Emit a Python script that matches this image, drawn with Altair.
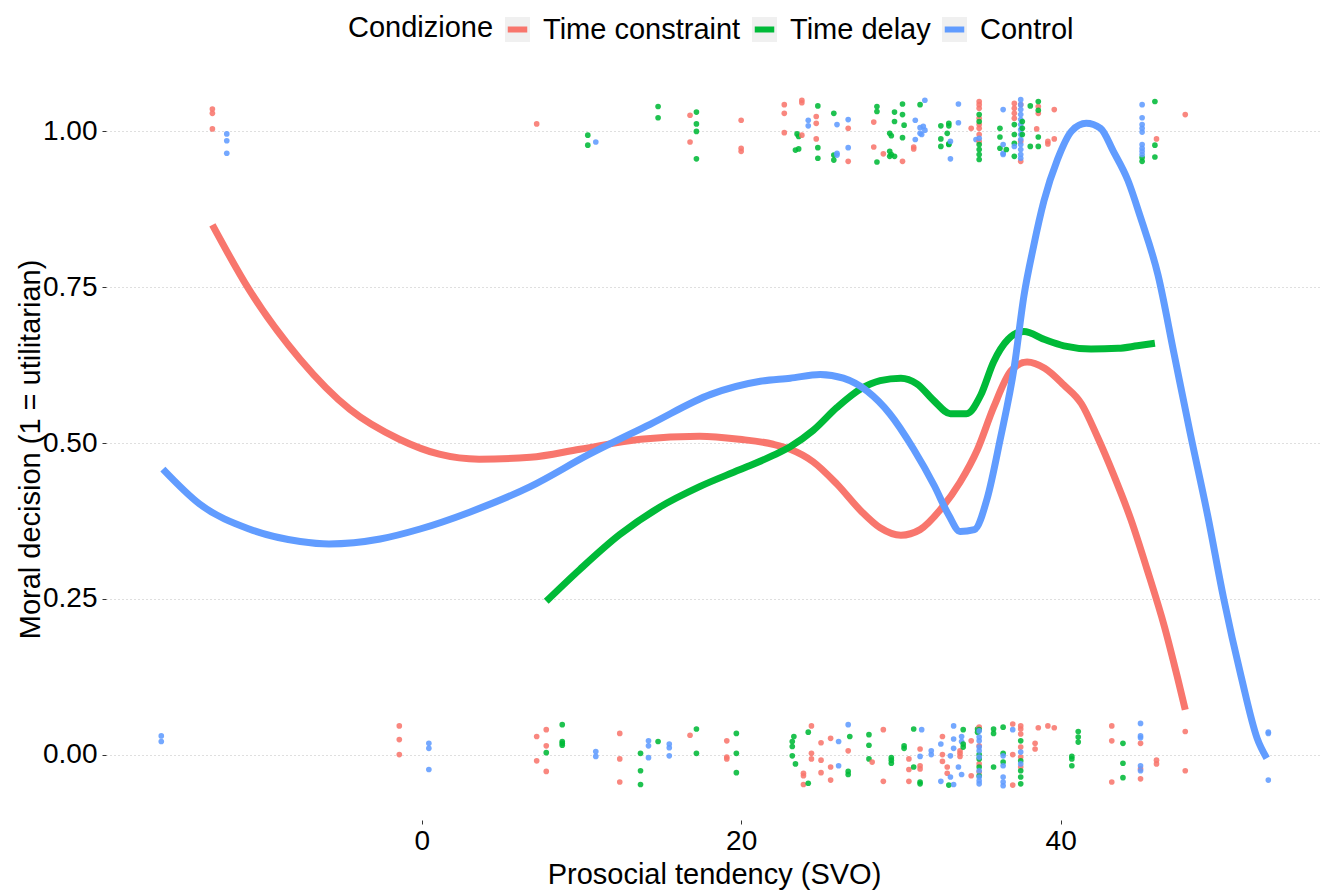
import altair as alt
import pandas as pd

CONDS = ["Time constraint", "Time delay", "Control"]
COLORS = ["#F8766D", "#00BA38", "#619CFF"]

# ---------------- jittered observations (SVO, decision) ----------------
tc_x = [-13.1, -13.1, -13.1, 7.2, 16.8, 16.8, 20.0, 20.0, 20.0,
        22.7, 22.7, 22.7, 23.8, 23.8, 23.8, 24.7, 24.7, 24.7, 26.7, 26.7,
        28.3, 28.3, 28.9, 30.1, 30.8, 30.8, 34.4,
        34.9, 34.9, 34.9, 34.9, 34.9, 34.9, 34.9, 34.9,
        37.1, 37.1, 37.1, 37.1, 37.5, 37.5, 37.5, 38.6, 38.6, 38.5, 39.2, 39.2,
        39.6, 39.6, 46.0, 47.8,
        -1.4, -1.4, -1.4, 7.2, 7.2, 7.8, 7.8, 7.8, 12.4, 12.4, 12.4, 16.8,
        19.1, 19.1, 19.1,
        24.4, 24.4, 24.4, 23.9, 23.9, 23.9, 25.0, 25.0, 25.0, 25.6, 25.6, 25.6,
        26.7, 28.9, 28.2, 28.9, 30.5, 30.5, 30.5, 31.2, 31.2, 31.2,
        32.6, 32.6, 32.6, 32.9, 32.9, 33.7, 33.7, 33.7, 34.4, 34.4,
        34.9, 34.9, 34.9, 34.9, 37.0, 37.0, 37.0,
        37.5, 37.5, 37.5, 37.5, 37.5, 37.5, 38.4, 38.4, 38.6, 39.2, 39.6,
        43.2, 43.2, 43.2, 45.0, 45.0, 45.0, 46.0, 46.0, 47.8, 47.8]
tc_y = [1.036, 1.029, 1.004, 1.012, 1.026, 0.983, 1.018, 0.973, 0.968,
        1.043, 1.029, 0.998, 1.050, 1.046, 0.994, 1.024, 1.013, 0.988, 1.005, 0.952,
        1.015, 0.975, 0.964, 0.952, 0.975, 0.972, 1.005,
        1.048, 1.043, 1.037, 1.021, 1.011, 1.005, 0.995, 0.984,
        1.045, 1.037, 1.029, 1.021, 0.984, 0.952, 1.043, 1.040, 1.029, 1.004, 0.984, 0.980,
        1.035, 0.988, 0.988, 1.027,
        0.046, 0.024, 0.000, 0.029, -0.010, 0.040, 0.014, -0.027, 0.034, -0.007, -0.044, 0.031,
        0.022, -0.004, -0.007,
        0.046, 0.002, -0.007, -0.030, -0.034, -0.048, 0.019, -0.009, -0.029, 0.026, -0.020, -0.041,
        0.006, 0.040, -0.012, -0.043, -0.007, -0.024, -0.043, 0.009, -0.018, -0.023,
        0.029, 0.000, -0.011, -0.020, -0.030, 0.006, 0.002, -0.003, 0.022, -0.034,
        0.044, 0.014, -0.015, -0.028, 0.049, 0.000, -0.049,
        0.046, 0.041, 0.033, 0.012, -0.004, -0.020, 0.018, 0.009, 0.043, 0.046, 0.043,
        0.046, 0.022, -0.044, 0.018, -0.023, -0.039, -0.009, -0.015, 0.037, -0.026]

td_x = [10.4, 10.4, 14.8, 14.8, 17.2, 17.2, 17.2, 17.2,
        24.8, 23.5, 23.6, 23.4, 23.6, 24.8, 24.8, 25.8, 25.8, 25.8,
        28.5, 28.5, 28.5, 29.3, 29.4, 30.1, 29.6, 30.1, 29.6, 30.2, 30.1,
        29.3, 29.3, 29.6, 29.4, 31.2, 32.5, 33.0, 33.0, 32.9, 32.5, 32.5, 33.0, 33.0,
        34.9, 34.9, 34.9, 34.9, 34.9, 34.9, 36.2, 36.2, 36.2, 36.6,
        37.1, 37.1, 37.1, 37.1, 37.6, 37.6, 37.6, 38.1, 38.6, 38.6, 38.6, 38.1, 38.6,
        45.1, 45.1, 45.9, 45.9, 45.9,
        7.8, 8.8, 8.8, 8.8, 8.8, 13.7, 13.7, 13.7, 14.8, 17.2, 17.2, 19.7, 19.7, 19.7,
        23.3, 23.2, 23.2, 23.2, 23.4, 24.2, 24.2, 26.8, 26.7, 26.7,
        28.0, 28.0, 28.0, 29.4, 29.4, 29.4, 30.2, 30.2, 30.8, 30.8, 31.2, 31.2,
        33.9, 33.9, 33.9, 34.8, 34.8, 34.9, 34.9, 34.9, 34.9, 34.9,
        35.8, 35.8, 35.8, 36.4, 36.4, 36.4, 37.5, 37.5, 37.5, 37.5, 37.5, 33.0,
        41.1, 41.1, 41.1, 40.7, 40.7, 40.7, 43.9, 43.9, 43.9]
td_y = [0.994, 0.978, 1.040, 1.022, 1.031, 1.012, 1.000, 0.956,
        1.041, 0.996, 0.992, 0.970, 0.972, 0.974, 0.957, 1.029, 0.962, 0.954,
        1.040, 1.032, 0.951, 0.997, 0.993, 1.044, 1.031, 1.027, 1.016, 1.010, 0.990,
        0.968, 0.960, 0.960, 0.963, 1.043, 1.009, 1.013, 1.009, 0.997, 0.988, 0.976, 0.979, 0.980,
        1.027, 1.016, 0.979, 0.971, 0.963, 0.955, 1.005, 0.991, 0.973, 0.971,
        1.011, 0.995, 0.981, 0.960, 1.016, 1.005, 0.995, 1.041, 1.048, 1.034, 0.991, 0.976, 0.976,
        0.952, 0.958, 1.048, 0.978, 0.959,
        0.003, 0.048, 0.021, 0.018, 0.015, 0.002, -0.026, -0.048, 0.021, 0.041, 0.002, 0.034, 0.002, -0.029,
        0.029, 0.021, 0.013, -0.002, -0.015, 0.036, -0.046, 0.029, -0.027, -0.032,
        0.032, 0.015, -0.007, -0.005, -0.009, -0.014, 0.014, 0.010, 0.041, -0.020, -0.044, -0.047,
        0.040, 0.017, 0.012, 0.041, 0.036, 0.040, 0.000, -0.007, -0.020, -0.034,
        0.041, 0.034, -0.020, 0.044, 0.002, -0.012, 0.022, -0.010, -0.026, -0.036, -0.047, -0.049,
        0.037, 0.028, 0.020, -0.003, -0.007, -0.018, 0.018, -0.014, -0.037]

ct_x = [-12.2, -12.2, -12.2, 10.9,
        24.2, 24.2, 26.0, 26.7, 26.7, 26.0, 26.0, 31.5, 30.9, 31.2, 31.4, 31.2, 31.5,
        30.9, 31.3, 33.6, 33.6, 33.1, 33.1, 34.7, 34.9, 36.4, 36.4, 36.4, 36.4,
        37.5, 37.5, 37.5, 37.5, 37.5, 37.5, 37.5, 37.5, 37.5, 37.5, 37.5, 37.5, 37.5,
        37.1, 45.1, 45.1, 45.1, 45.1, 45.1, 45.1, 45.1, 45.1, 45.1,
        -16.3, -16.3, 0.45, 0.45, 0.45, 10.9, 10.9, 14.2, 14.2, 14.2, 15.5, 15.5, 15.5,
        26.7, 26.1, 26.1, 31.3, 31.2, 31.9, 31.9, 32.5, 32.5, 33.3, 33.3, 33.3,
        33.8, 33.8, 33.8, 33.1, 33.1, 33.3, 33.6,
        34.9, 34.9, 34.9, 34.9, 34.9, 34.9, 34.9, 34.9, 34.9, 34.9,
        36.4, 36.4, 36.4, 36.4, 36.4, 37.0, 37.5, 37.5,
        45.0, 45.0, 45.0, 45.0, 45.0, 53.0, 53.0, 53.0]
ct_y = [0.996, 0.985, 0.965, 0.983,
        1.018, 1.009, 1.011, 1.019, 0.974, 0.965, 0.962, 1.050, 1.018, 1.006, 1.008, 0.997, 1.002,
        0.987, 0.995, 1.044, 1.014, 0.984, 0.956, 0.987, 0.989, 1.035, 0.979, 0.965, 0.963,
        1.051, 1.043, 1.035, 1.027, 1.019, 1.011, 1.003, 0.995, 0.987, 0.979, 0.971, 0.963, 0.957,
        0.976, 1.043, 1.022, 1.011, 1.005, 0.999, 0.979, 0.973, 0.968, 0.963,
        0.030, 0.021, 0.018, 0.010, -0.024, 0.005, -0.003, 0.022, 0.014, -0.005, 0.017, 0.011, -0.002,
        0.048, 0.021, -0.018, 0.040, -0.003, 0.006, 0.000, 0.017, -0.043, 0.046, 0.025, 0.010,
        0.029, 0.021, -0.032, -0.002, -0.036, -0.048, -0.020,
        0.038, 0.028, 0.022, 0.012, 0.006, -0.004, -0.026, -0.036, -0.042, -0.047,
        -0.002, -0.018, -0.036, -0.044, -0.050, 0.040, 0.004, -0.015,
        0.050, 0.030, 0.027, -0.018, -0.026, 0.036, 0.034, -0.041]

# ---------------- smoothed curves ----------------
tc_cx = [-13.1, -10.8, -7.6, -4.5, -1.4, 1.1, 3.6, 6.8, 9.9, 13.7, 17.4, 19.9, 22.0, 23.07,
         24.5, 26.0, 27.5, 28.7, 30.0, 31.2, 32.5, 33.7, 34.8, 35.8, 36.9, 37.9, 39.0,
         40.2, 41.3, 42.3, 43.3, 44.4, 45.4, 46.5, 47.3, 47.8]
tc_cy = [0.850, 0.746, 0.634, 0.554, 0.506, 0.482, 0.474, 0.477, 0.490, 0.506, 0.511, 0.506,
         0.498, 0.490, 0.470, 0.434, 0.391, 0.364, 0.352, 0.361, 0.394, 0.437, 0.490, 0.557,
         0.616, 0.630, 0.620, 0.593, 0.563, 0.510, 0.450, 0.377, 0.298, 0.205, 0.125, 0.072]

td_cx = [7.8, 9.9, 12.4, 14.9, 17.4, 19.9, 22.0, 23.07, 24.5, 26.0, 27.5, 28.7, 30.0, 31.0,
         32.1, 33.1, 34.1, 35.0, 35.8, 36.7, 37.7, 39.0, 40.2, 41.9, 43.6, 44.8, 45.9]
td_cy = [0.246, 0.297, 0.353, 0.397, 0.430, 0.457, 0.480, 0.494, 0.520, 0.557, 0.587, 0.600,
         0.604, 0.595, 0.567, 0.547, 0.547, 0.577, 0.630, 0.666, 0.679, 0.666, 0.656, 0.651,
         0.652, 0.656, 0.660]

ct_cx = [-16.2, -13.9, -10.8, -7.6, -5.8, -2.6, -0.1, 3.0, 6.8, 10.5, 14.3, 18.1, 21.2, 23.07,
         24.95, 26.4, 27.9, 29.3, 30.8, 32.1, 33.0, 33.7, 34.6, 35.4, 36.2, 37.1, 37.7, 38.3,
         38.95, 39.8, 40.7, 41.6, 42.5, 43.3, 44.2, 45.0, 46.1, 47.1, 48.1, 49.2, 50.2, 51.3,
         52.3, 52.9]
ct_cy = [0.458, 0.402, 0.362, 0.342, 0.338, 0.346, 0.362, 0.389, 0.430, 0.482, 0.530, 0.578,
         0.599, 0.604, 0.610, 0.604, 0.583, 0.547, 0.490, 0.431, 0.384, 0.358, 0.361, 0.411,
         0.504, 0.623, 0.736, 0.815, 0.888, 0.955, 1.001, 1.013, 1.005, 0.968, 0.922, 0.862,
         0.769, 0.643, 0.517, 0.384, 0.251, 0.125, 0.026, -0.006]

X_TICKS = [0, 20, 40]
Y_TICKS = [0.0, 0.25, 0.5, 0.75, 1.0]

# ---------------- tables ----------------
pts = pd.concat([
    pd.DataFrame({"svo": tc_x, "dec": tc_y, "cond": CONDS[0]}),
    pd.DataFrame({"svo": td_x, "dec": td_y, "cond": CONDS[1]}),
    pd.DataFrame({"svo": ct_x, "dec": ct_y, "cond": CONDS[2]}),
], ignore_index=True)
pts = pts.sort_values("svo", kind="stable").reset_index(drop=True)

curves = pd.concat([
    pd.DataFrame({"svo": tc_cx, "dec": tc_cy, "cond": CONDS[0]}),
    pd.DataFrame({"svo": td_cx, "dec": td_cy, "cond": CONDS[1]}),
    pd.DataFrame({"svo": ct_cx, "dec": ct_cy, "cond": CONDS[2]}),
], ignore_index=True)

FONT = "Liberation Sans"
xscale = alt.Scale(domain=[-19.76, 56.36], nice=False, zero=False)
yscale = alt.Scale(domain=[-0.105, 1.105], nice=False, zero=False)

xenc = alt.X("svo:Q", scale=xscale, axis=alt.Axis(
    values=X_TICKS, grid=False, domain=False, ticks=True, tickSize=4, tickColor="#333333",
    labelFont=FONT, labelFontSize=28, labelColor="#000000", labelPadding=3,
    title="Prosocial tendency (SVO)", titleFont=FONT, titleFontSize=29,
    titleFontWeight="normal", titleColor="#000000", titleBaseline="alphabetic",
    titleX=608, titleY=63, titleAlign="center"))
yenc = alt.Y("dec:Q", scale=yscale, axis=alt.Axis(
    values=Y_TICKS, format=".2f", grid=True, gridColor="#BEBEBE", gridDash=[1, 3],
    gridWidth=1, domain=False, ticks=True, tickSize=4, tickColor="#333333",
    labelFont=FONT, labelFontSize=28, labelColor="#000000", labelPadding=5,
    title="Moral decision (1 = utilitarian)", titleFont=FONT, titleFontSize=29,
    titleFontWeight="normal", titleColor="#000000", titleAngle=-90,
    titleBaseline="middle", titleAlign="center", titleX=-76, titleY=383))

# legend key: light grey square with a short thick coloured bar (one contour;
# the dash shows only the bar part, the fill paints the square)
KEY_PATH = "M-0.78,0L0.78,0L1,0L1,1L-1,1L-1,-1L1,-1L1,0"

points = alt.Chart(pts).mark_circle(size=32, opacity=0.88).encode(
    x=xenc, y=yenc,
    fill=alt.Fill("cond:N", scale=alt.Scale(domain=CONDS, range=COLORS), legend=None),
)

lines = alt.Chart(curves).mark_line(strokeWidth=7, interpolate="monotone").encode(
    x=alt.X("svo:Q", scale=xscale), y=alt.Y("dec:Q", scale=yscale),
    stroke=alt.Stroke("cond:N", scale=alt.Scale(domain=CONDS, range=COLORS),
                      legend=alt.Legend(
                          orient="none", legendX=242, legendY=-52, direction="horizontal",
                          title="Condizione", titleOrient="left", titleFont=FONT,
                          titleFontSize=29, titleFontWeight="normal", titleColor="#000000",
                          titlePadding=8, titleBaseline="line-bottom", titleLineHeight=10,
                          labelFont=FONT, labelFontSize=29, labelColor="#000000",
                          labelOffset=10, labelLimit=500, columnPadding=-1,
                          symbolType=KEY_PATH, symbolSize=625, symbolStrokeWidth=6,
                          symbolDash=[19.5, 400], symbolFillColor="#F0F0F0",
                          symbolOpacity=1)),
    order=alt.Order("svo:Q"),
)

chart = alt.layer(points, lines).properties(
    width=1216, height=754,
    autosize=alt.AutoSizeParams(type="none"),
    padding={"left": 106, "top": 66, "right": 1, "bottom": 70},
    background="#FFFFFF",
).configure_view(stroke=None).resolve_scale(fill="independent", stroke="independent")

chart.save("out.html", embed_options={"renderer": "svg", "actions": False})
